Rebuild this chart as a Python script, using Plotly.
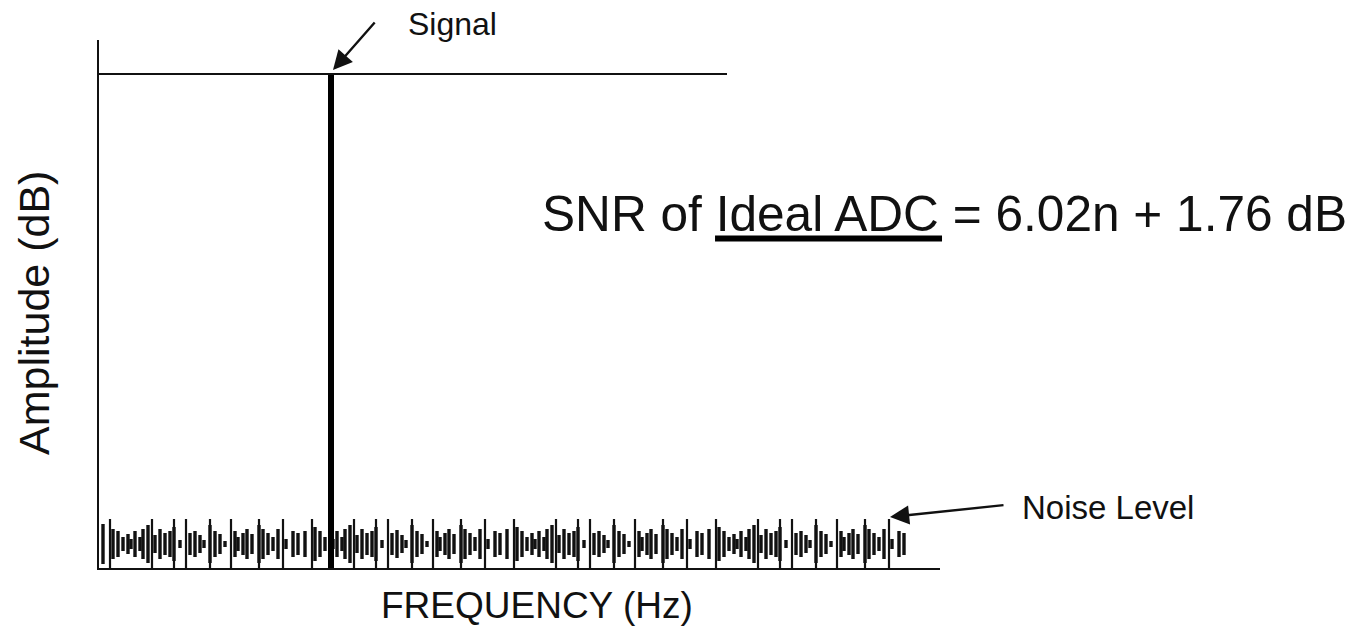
import plotly.graph_objects as go

# Frequency axis in bins, amplitude axis in relative units (no tick labels shown)
FREQ_RANGE = [0, 841]
AMP_RANGE = [0, 528]

# Single full-scale tone
signal_freq = [232]
signal_amp = [494]

# Full-scale reference level drawn across the upper part of the plot
fullscale_freq = [0, 628]
fullscale_amp = [494, 494]

# Quantization noise floor: bursts centred on the noise level
noise_center = 24
noise_freq = [
    4, 14, 19, 24, 29, 32, 36, 41, 44, 49, 56, 61, 66, 71, 75, 81, 91, 96, 101,
    105, 111, 116, 121, 126, 136, 139, 144, 148, 153, 160, 164, 169, 174, 179,
    187, 194, 199,
    206, 216, 221, 226, 231, 234, 238, 243, 246, 251, 258, 263, 268, 273, 277,
    283, 293, 298, 303, 307, 313, 318, 323, 328, 338, 341, 346, 350, 355, 362,
    366, 371, 376, 381, 389, 396, 401,
    408, 418, 423, 428, 433, 436, 440, 445, 448, 453, 460, 465, 470, 475, 479,
    485, 495, 500, 505, 509, 515, 520, 525, 530, 540, 543, 548, 552, 557, 564,
    568, 573, 578, 583, 591, 598, 603,
    610, 620, 625, 630, 635, 638, 642, 647, 650, 655, 662, 667, 672, 677, 681,
    687, 697, 702, 707, 711, 717, 722, 727, 732, 742, 745, 750, 754, 759, 766,
    770, 775, 780, 785, 793, 800, 805,
]
noise_half = [
    20, 15, 13, 7, 10, 5, 13, 7, 15, 19, 9, 15, 11, 13, 17, 4, 11, 13, 9,
    4, 19, 13, 10, 3, 13, 7, 11, 15, 10, 19, 15, 11, 7, 15, 5, 13, 11,
    13, 17, 13, 7, 10, 5, 13, 7, 15, 19, 9, 15, 11, 13, 17, 4, 11, 14, 9,
    4, 19, 13, 10, 3, 13, 7, 11, 15, 10, 19, 15, 11, 7, 15, 5, 13, 11,
    15, 17, 13, 7, 11, 5, 13, 7, 15, 19, 9, 15, 11, 13, 17, 4, 11, 13, 9,
    4, 19, 13, 10, 3, 13, 7, 11, 15, 10, 19, 15, 11, 7, 15, 5, 13, 11,
    15, 17, 13, 7, 10, 5, 13, 7, 15, 19, 9, 15, 11, 13, 17, 4, 11, 13, 9,
    4, 19, 13, 10, 3, 13, 7, 11, 15, 10, 19, 15, 11, 7, 15, 5, 13, 11,
]

# Taller noise spikes rising from the baseline
spike_freq = [
    11, 53, 75, 87, 111, 132, 160, 184,
    213, 255, 277, 289, 313, 334, 362, 386,
    415, 457, 479, 491, 515, 536, 564, 588,
    617, 659, 681, 693, 717, 738, 766, 790,
]
spike_amp = [
    49, 49, 49, 49, 49, 49, 49, 49,
    49, 49, 49, 49, 49, 49, 49, 49,
    49, 49, 49, 49, 49, 49, 49, 49,
    49, 49, 49, 49, 49, 49, 49, 49,
]

INK = "#111111"
FONT = "Liberation Sans, Arial, Helvetica, sans-serif"

fig = go.Figure()

fig.add_trace(go.Bar(
    x=noise_freq,
    y=[2 * h for h in noise_half],
    base=[noise_center - h for h in noise_half],
    width=3.4,
    marker=dict(color=INK, line=dict(width=0)),
    hoverinfo="skip",
))

fig.add_trace(go.Bar(
    x=spike_freq,
    y=spike_amp,
    base=0,
    width=2.2,
    marker=dict(color=INK, line=dict(width=0)),
    hoverinfo="skip",
))

fig.add_trace(go.Scatter(
    x=fullscale_freq,
    y=fullscale_amp,
    mode="lines",
    line=dict(color=INK, width=2),
    hoverinfo="skip",
))

fig.add_trace(go.Bar(
    x=signal_freq,
    y=signal_amp,
    base=0,
    width=6,
    marker=dict(color="black", line=dict(width=0)),
    hoverinfo="skip",
))

annotations = [
    dict(text="Amplitude (dB)", x=-0.0773, y=0.483, xref="paper", yref="paper",
         xanchor="center", yanchor="middle",
         textangle=-90, showarrow=False,
         font=dict(family=FONT, size=43, color=INK)),
    dict(text="FREQUENCY (Hz)", x=0.5208, y=-0.0701, xref="paper", yref="paper",
         xanchor="center", yanchor="middle", showarrow=False,
         font=dict(family=FONT, size=37, color=INK)),
    dict(text="SNR of Ideal ADC = 6.02n + 1.76 dB", x=441, y=354,
         xref="x", yref="y", xanchor="left", yanchor="middle", showarrow=False,
         font=dict(family=FONT, size=49.6, color=INK)),
    dict(text="Signal", x=0.365, y=1.0303, xref="paper", yref="paper",
         xanchor="left", yanchor="middle", showarrow=False,
         font=dict(family=FONT, size=32, color=INK)),
    dict(text="Noise Level", x=1.0951, y=0.1155, xref="paper", yref="paper",
         xanchor="left", yanchor="middle", showarrow=False,
         font=dict(family=FONT, size=33, color=INK)),
    # arrows
    dict(text="", x=signal_freq[0] + 2, y=signal_amp[0] + 4, xref="x", yref="y",
         ax=277, ay=547, axref="x", ayref="y", showarrow=True,
         arrowhead=2, arrowsize=1.6, arrowwidth=2.4, arrowcolor=INK),
    dict(text="", x=spike_freq[-1] + 1, y=spike_amp[-1] + 2, xref="x", yref="y",
         ax=906, ay=63, axref="x", ayref="y", showarrow=True,
         arrowhead=2, arrowsize=1.6, arrowwidth=2.4, arrowcolor=INK),
]

# heavy underline beneath "Ideal ADC"
shapes = [
    dict(type="line", xref="paper", yref="paper",
         x0=0.7325, x1=1.0024, y0=0.624, y1=0.624,
         line=dict(color="black", width=6)),
]

fig.update_layout(
    width=1355, height=629,
    margin=dict(l=99, r=415, t=40, b=61, pad=0),
    paper_bgcolor="white", plot_bgcolor="white",
    showlegend=False,
    barmode="overlay",
    annotations=annotations,
    shapes=shapes,
    xaxis=dict(range=FREQ_RANGE, showline=True, linecolor=INK, linewidth=2,
               showgrid=False, zeroline=False, showticklabels=False, ticks=""),
    yaxis=dict(range=AMP_RANGE, showline=True, linecolor=INK, linewidth=2,
               showgrid=False, zeroline=False, showticklabels=False, ticks=""),
)

fig.write_html("out.html")
